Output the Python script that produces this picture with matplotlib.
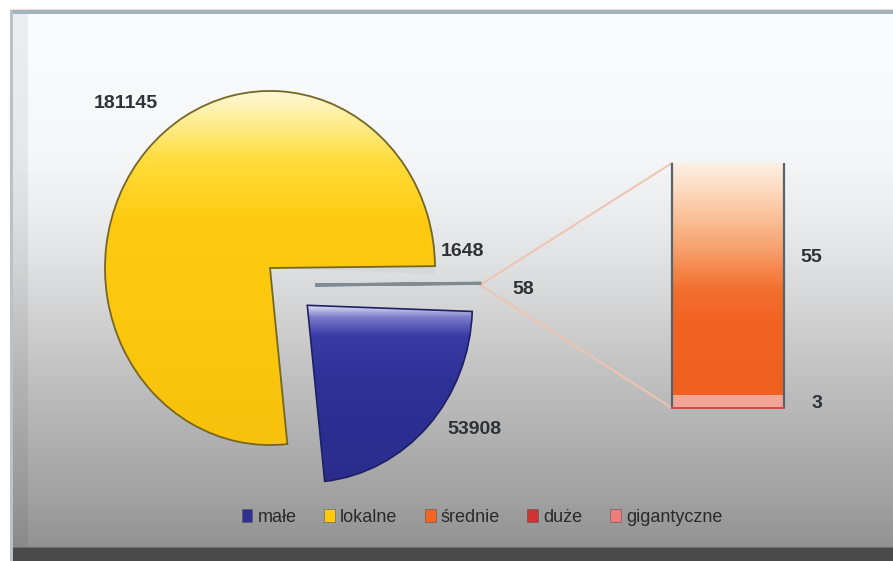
import numpy as np
import matplotlib
matplotlib.use('Agg')
import matplotlib.pyplot as plt
from matplotlib.patches import Rectangle, Patch
from matplotlib.colors import to_rgb

plt.rcParams['font.family'] = ['Liberation Sans', 'DejaVu Sans']

# ---- data ----
categories = ['małe', 'lokalne', 'średnie', 'duże', 'gigantyczne']
values = [53908, 181145, 1648, 55, 3]
legend_colors = ['#2e3192', '#ffc90e', '#f26522', '#cf3434', '#ee7b7b']

W, H = 893, 561
K = 1.073  # vertical stretch of the original picture


def Y(p):
    return (H - p) / K


fig = plt.figure(figsize=(W / 100, H / 100), dpi=100)
fig.patch.set_facecolor('white')
ax = fig.add_axes([0, 0, 1, 1])


def vgrad(stops, x0, x1, p0, p1, clip=None, z=0.5):
    ys = np.linspace(p0, p1, 400)
    pos = [s[0] for s in stops]
    cols = np.array([to_rgb(s[1]) for s in stops])
    img = np.stack([np.interp(ys, pos, cols[:, i]) for i in range(3)], axis=-1)[:, None, :]
    im = ax.imshow(img, extent=[x0, x1, Y(p1), Y(p0)], aspect='auto',
                   origin='upper', zorder=z, interpolation='bilinear')
    if clip is not None:
        im.set_clip_path(clip)
    return im


# ---- background frame ----
bg_stops = [(14, '#fbfcfd'), (150, '#f6f7f8'), (200, '#eeeff0'), (260, '#e1e2e3'),
            (320, '#d1d1d2'), (380, '#c0c0c0'), (440, '#b0b0b0'), (500, '#a1a1a1'),
            (548, '#929292')]
vgrad(bg_stops, 12, W, 14, 548, z=0.1)
ax.add_patch(Rectangle((13, Y(548)), 15, (548 - 14) / K, facecolor='black',
                       alpha=0.06, lw=0, zorder=0.2))
ax.add_patch(Rectangle((10, Y(14)), W - 10, 4 / K, facecolor='#a3b3be', lw=0, zorder=0.3))
ax.add_patch(Rectangle((10, Y(10)), W - 10, 1 / K, facecolor='#f3ded6', lw=0, zorder=0.3))
ax.add_patch(Rectangle((10, Y(561)), 3, (561 - 10) / K, facecolor='#b9c2c9', lw=0, zorder=0.3))
ax.add_patch(Rectangle((13, Y(561)), W - 13, 13 / K, facecolor='#4a4a4a', lw=0, zorder=0.3))
ax.add_patch(Rectangle((13, Y(548)), W - 13, 1.5 / K, facecolor='#6c6c6c', lw=0, zorder=0.3))

# ---- pie ----
pie_vals = [values[1], values[0], values[2], values[3] + values[4]]
R = 165
cx, cy = 270, Y(268)
wedges, _ = ax.pie(pie_vals, startangle=0.6, counterclock=True, radius=R,
                   center=(cx, cy), explode=[0, 51, 0, 0],
                   wedgeprops=dict(linewidth=0))
w_yel, w_blue, w_mid, w_oth = wedges

# yellow
w_yel.set_facecolor('none')
w_yel.set_edgecolor('#746624')
w_yel.set_linewidth(1.3)
w_yel.set_zorder(3)
vgrad([(88, '#fdf8dc'), (115, '#fdf0a0'), (160, '#ffdc3c'), (220, '#ffcb10'),
       (445, '#f8c20c')], cx - R - 5, cx + R + 5, 85, 450, clip=w_yel, z=2)

# blue
w_blue.set_facecolor('none')
w_blue.set_edgecolor('#1d2163')
w_blue.set_linewidth(1.2)
w_blue.set_zorder(3)
vgrad([(303, '#f4f4fb'), (308, '#c8c8ea'), (317, '#7c7ccc'), (335, '#3a3ca6'),
       (380, '#2e3196'), (485, '#2a2d8c')], 295, 490, 300, 490, clip=w_blue, z=2)

# middle slice (średnie)
w_mid.set_facecolor('#d5d7d9')
w_mid.set_zorder(1.5)

# "other" slice
w_oth.set_center((315, Y(285)))
w_oth.set_facecolor('#c9d0d6')
w_oth.set_edgecolor('#7d8b95')
w_oth.set_linewidth(2.2)
w_oth.set_zorder(3)

# ---- bar of the "other" part ----
bar_bottom = Y(408)
scale = (Y(163) - Y(408)) / (values[3] + values[4])
bars = ax.bar([728, 728], [values[3] * scale, values[4] * scale], width=112,
              bottom=[bar_bottom + values[4] * scale, bar_bottom],
              linewidth=0, zorder=3)
b_big, b_small = bars
b_big.set_facecolor('none')
vgrad([(163, '#fdf1e6'), (200, '#fcd2b2'), (250, '#f8a06c'), (290, '#f36f2e'),
       (320, '#f26424'), (400, '#ef5f20')], 668, 788, 160, 402, clip=b_big, z=2)
b_small.set_facecolor('#f3a595')
x0 = b_big.get_x()
x1 = x0 + b_big.get_width()
ytop = b_big.get_y() + b_big.get_height()
ax.plot([x0, x0], [bar_bottom, ytop], color='#56636c', lw=1.6, zorder=4, solid_capstyle='butt')
ax.plot([x1, x1], [bar_bottom, ytop], color='#56636c', lw=1.6, zorder=4, solid_capstyle='butt')
ax.plot([x0, x1], [bar_bottom, bar_bottom], color='#d04a4a', lw=1.4, zorder=4)

# connector lines
tipx = w_oth.center[0] + R
tipy = w_oth.center[1]
ax.plot([tipx, x0], [tipy, ytop], color='#f0c3b0', lw=1.4, zorder=1)
ax.plot([tipx, x0], [tipy, bar_bottom], color='#f0c3b0', lw=1.4, zorder=1)

# ---- value labels ----
lab = dict(ha='center', va='center', fontsize=14, fontweight='bold', color='#2e3237', zorder=5)
ax.text(126, Y(104), f'{values[1]}', **lab)
ax.text(462, Y(251), f'{values[2]}', **lab)
ax.text(523, Y(290), f'{values[3] + values[4]}', **lab)
ax.text(474, Y(429), f'{values[0]}', **lab)
ax.text(811, Y(257), f'{values[3]}', **lab)
ax.text(817, Y(403), f'{values[4]}', **lab)

# ---- legend ----
handles = [Patch(facecolor=c, edgecolor='#555555', linewidth=0.4) for c in legend_colors]
leg = ax.legend(handles, categories, ncol=5, loc='center',
                bbox_to_anchor=(482 / W, 1 - 517 / H), frameon=False,
                fontsize=13, handlelength=0.6, handleheight=0.7,
                handletextpad=0.3, columnspacing=1.5, labelcolor='#2a2a2a')
leg.set_zorder(6)

ax.set_aspect('auto')
ax.set_xlim(0, W)
ax.set_ylim(0, H / K)
ax.axis('off')

fig.savefig('out.png', dpi=100, facecolor='white')
